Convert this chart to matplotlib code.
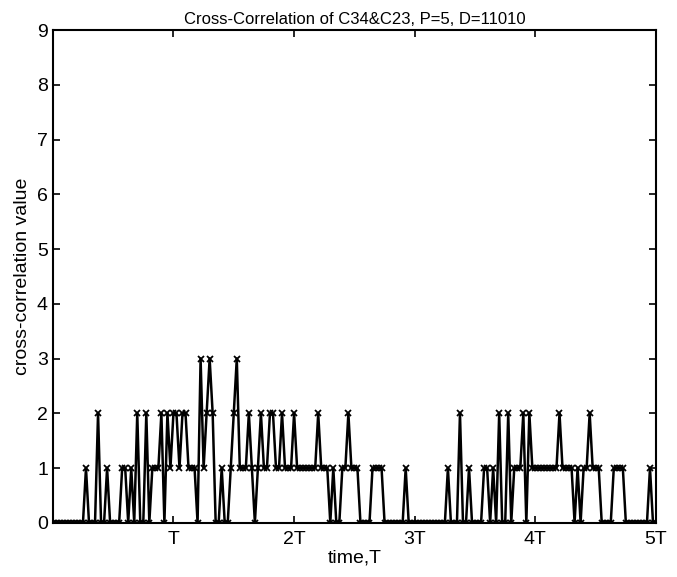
import numpy as np
import matplotlib

matplotlib.use('Agg')
import matplotlib.pyplot as plt

plt.rcParams['font.family'] = ['Liberation Sans Narrow', 'Liberation Sans', 'DejaVu Sans']

# cross-correlation values, 40 samples per bit period T
corr = [0] * 11 + [1, 0, 0, 0, 2, 0, 0, 1, 0, 0, 0, 0, 1, 1, 0, 1, 0, 2, 0, 0,
                   2, 0, 1, 1, 1, 2, 0, 2, 1, 2, 2, 1, 2, 2, 1, 1, 1, 0, 3, 1,
                   2, 3, 2, 0, 0, 1, 0, 0, 1, 2, 3, 1, 1, 1, 2, 1, 0, 1, 2, 1,
                   1, 2, 2, 1, 1, 2, 1, 1, 1, 2] \
    + [1] * 7 + [2, 1, 1, 1, 0, 1, 0, 0, 1, 1, 2, 1, 1, 1, 0, 0, 0, 0,
                 1, 1, 1, 1] \
    + [0] * 7 + [1] + [0] * 13 \
    + [1, 0, 0, 0, 2, 0, 0, 1, 0, 0, 0, 0, 1, 1, 0, 1, 0, 2, 0, 0,
       2, 0, 1, 1, 1, 2, 0, 2, 1] \
    + [1] * 8 + [2, 1, 1, 1, 1, 0, 1, 0, 1, 1, 2, 1, 1, 1, 0, 0, 0, 0,
                 1, 1, 1, 1] \
    + [0] * 8 + [1, 0, 0]
samples_per_T = 40
tick_labels = ['T', '2T', '3T', '4T', '5T']

corr = np.array(corr)
t = np.arange(len(corr))

fig = plt.figure(figsize=(6.77, 5.77), dpi=100)
ax = fig.add_axes([0.078, 0.094, 0.891, 0.854])

ax.plot(t, corr, '-xk', lw=1.8, ms=5, mew=1.3)

ax.set_xlim(0, 5 * samples_per_T)
ax.set_ylim(0, 9)
ax.set_xticks(samples_per_T * np.arange(1, 6))
ax.set_xticklabels(tick_labels)
ax.set_yticks(range(10))
ax.tick_params(direction='in', top=True, right=True, length=5, width=1.2, labelsize=14)
ax.tick_params(axis='x', pad=6)
for s in ax.spines.values():
    s.set_linewidth(1.5)

ax.set_title('Cross-Correlation of C34&C23, P=5, D=11010', fontsize=12, pad=4)
ax.set_xlabel('time,T', fontsize=14, labelpad=1)
ax.set_ylabel('cross-correlation value', fontsize=14, labelpad=4)

plt.savefig('out.png', dpi=100)
